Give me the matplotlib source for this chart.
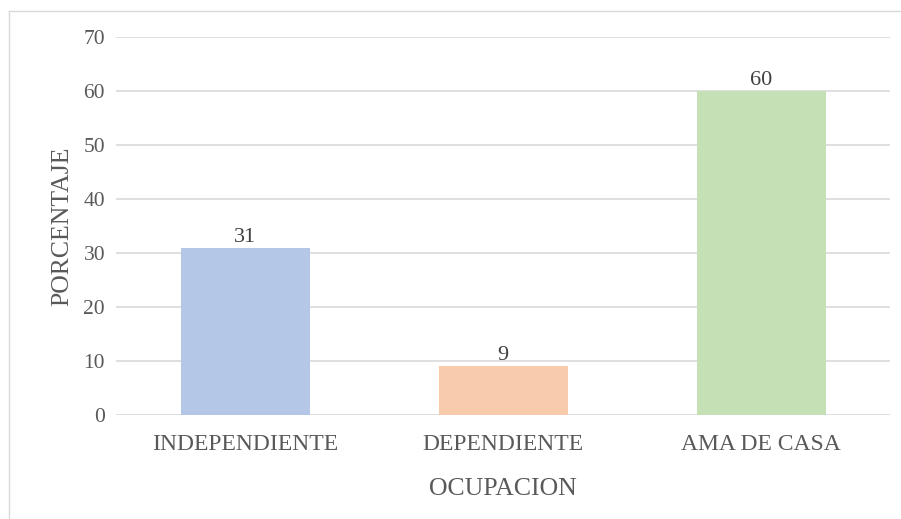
import matplotlib.pyplot as plt
from matplotlib.lines import Line2D

plt.rcParams["font.family"] = ["Liberation Serif", "DejaVu Serif"]

categorias = ["INDEPENDIENTE", "DEPENDIENTE", "AMA DE CASA"]
porcentajes = [31, 9, 60]
colores = ["#B4C7E7", "#F8CBAD", "#C5E0B4"]
yticks = [0, 10, 20, 30, 40, 50, 60, 70]

texto = "#595959"

fig = plt.figure(figsize=(9.01, 5.19), dpi=100)
ax = fig.add_axes([0.129, 0.2004, 0.859, 0.7283])

x = range(len(categorias))
bars = ax.bar(x, porcentajes, width=0.5, color=colores, zorder=2)
for b, v in zip(bars, porcentajes):
    ax.text(b.get_x() + b.get_width() / 2, v + 0.2, str(v), ha="center", va="bottom",
            fontsize=16, color="#404040")

ax.set_xlim(-0.5, 2.5)
ax.set_ylim(0, 70)
ax.set_yticks(yticks)
ax.set_xticks(list(x))
ax.set_xticklabels(categorias)
ax.tick_params(axis="y", length=0, labelsize=15.5, labelcolor=texto, pad=8)
ax.tick_params(axis="x", length=0, labelsize=17, labelcolor=texto, pad=14)
for s in ax.spines.values():
    s.set_visible(False)
ax.grid(axis="y", color="#D9D9D9", linewidth=1.2, zorder=0)

ax.set_ylabel("PORCENTAJE", fontsize=18.5, color=texto, labelpad=7)
ax.set_xlabel("OCUPACION", fontsize=18.5, color=texto, labelpad=16)

# borde del grafico (solo se ven izquierda y arriba)
bx, by = 8.5 / 901, 1 - 10.5 / 519
fig.lines.append(Line2D([bx, bx], [0, by], transform=fig.transFigure, color="#D9D9D9", linewidth=1))
fig.lines.append(Line2D([bx, 1], [by, by], transform=fig.transFigure, color="#D9D9D9", linewidth=1))

fig.savefig("out.png", dpi=100)
